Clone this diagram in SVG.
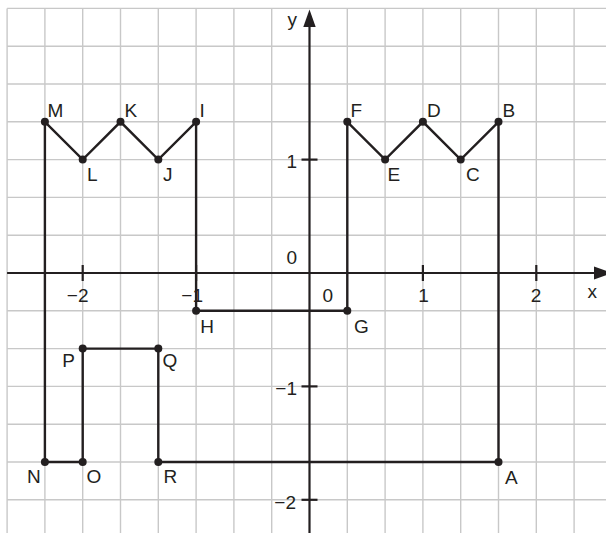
<svg xmlns="http://www.w3.org/2000/svg" width="606" height="533" viewBox="0 0 606 533">
<style>
.grid line{stroke:#c8c8c8;stroke-width:1.4}
.axis{stroke:#231f20;stroke-width:2.2;fill:none}
.seg{stroke:#231f20;stroke-width:2.4;fill:none;stroke-linejoin:miter}
.dot{fill:#231f20}
text{font-family:"Liberation Sans",Arial,sans-serif;font-size:19px;fill:#231f20}
.e{text-anchor:end}
.m{text-anchor:middle}
</style>
<rect width="606" height="533" fill="#ffffff"/>
<g class="grid" id="grid">
<line x1="7.1" y1="8.4" x2="7.1" y2="533"/>
<line x1="44.9" y1="8.4" x2="44.9" y2="533"/>
<line x1="82.7" y1="8.4" x2="82.7" y2="533"/>
<line x1="120.5" y1="8.4" x2="120.5" y2="533"/>
<line x1="158.3" y1="8.4" x2="158.3" y2="533"/>
<line x1="196.1" y1="8.4" x2="196.1" y2="533"/>
<line x1="233.9" y1="8.4" x2="233.9" y2="533"/>
<line x1="271.7" y1="8.4" x2="271.7" y2="533"/>
<line x1="347.3" y1="8.4" x2="347.3" y2="533"/>
<line x1="385.1" y1="8.4" x2="385.1" y2="533"/>
<line x1="422.9" y1="8.4" x2="422.9" y2="533"/>
<line x1="460.7" y1="8.4" x2="460.7" y2="533"/>
<line x1="498.5" y1="8.4" x2="498.5" y2="533"/>
<line x1="536.3" y1="8.4" x2="536.3" y2="533"/>
<line x1="574.1" y1="8.4" x2="574.1" y2="533"/>
<line x1="7.1" y1="8.4" x2="606" y2="8.4"/>
<line x1="7.1" y1="46.2" x2="606" y2="46.2"/>
<line x1="7.1" y1="84" x2="606" y2="84"/>
<line x1="7.1" y1="121.8" x2="606" y2="121.8"/>
<line x1="7.1" y1="159.6" x2="606" y2="159.6"/>
<line x1="7.1" y1="197.4" x2="606" y2="197.4"/>
<line x1="7.1" y1="235.2" x2="606" y2="235.2"/>
<line x1="7.1" y1="310.8" x2="606" y2="310.8"/>
<line x1="7.1" y1="348.6" x2="606" y2="348.6"/>
<line x1="7.1" y1="386.4" x2="606" y2="386.4"/>
<line x1="7.1" y1="424.2" x2="606" y2="424.2"/>
<line x1="7.1" y1="462" x2="606" y2="462"/>
<line x1="7.1" y1="499.8" x2="606" y2="499.8"/>
</g>
<g id="axes">
<line class="axis" x1="7.1" y1="273" x2="595" y2="273"/>
<polygon class="dot" points="594,266.5 612,273 594,279.5"/>
<line class="axis" x1="309.5" y1="26" x2="309.5" y2="533"/>
<polygon class="dot" points="309.5,9.5 303.3,27 315.7,27"/>
<line class="axis" x1="82.7" y1="265" x2="82.7" y2="281"/>
<line class="axis" x1="196.1" y1="265" x2="196.1" y2="281"/>
<line class="axis" x1="422.9" y1="265" x2="422.9" y2="281"/>
<line class="axis" x1="536.3" y1="265" x2="536.3" y2="281"/>
<line class="axis" x1="301.5" y1="159.6" x2="317.5" y2="159.6"/>
<line class="axis" x1="301.5" y1="386.4" x2="317.5" y2="386.4"/>
<line class="axis" x1="301.5" y1="499.8" x2="317.5" y2="499.8"/>
<text class="e" x="297" y="26">y</text>
<text x="587.5" y="298">x</text>
<text class="e" x="297" y="263.5">0</text>
<text x="322.5" y="301.7">0</text>
<text class="e" x="88.5" y="302">−2</text>
<text class="e" x="203" y="302">−1</text>
<text class="m" x="423.5" y="302">1</text>
<text class="m" x="536" y="302">2</text>
<text class="e" x="297" y="168">1</text>
<text class="e" x="297" y="395">−1</text>
<text class="e" x="296" y="508.5">−2</text>
</g>
<g id="connectors">
<polygon class="seg" points="498.5,462 498.5,121.8 460.7,159.6 422.9,121.8 385.1,159.6 347.3,121.8 347.3,310.8 196.1,310.8 196.1,121.8 158.3,159.6 120.5,121.8 82.7,159.6 44.9,121.8 44.9,462 82.7,462 82.7,348.6 158.3,348.6 158.3,462"/>
</g>
<g id="A"><circle class="dot" cx="498.5" cy="462" r="4"/><text x="505" y="484">A</text></g>
<g id="B"><circle class="dot" cx="498.5" cy="121.8" r="4"/><text x="502.5" y="116.5">B</text></g>
<g id="C"><circle class="dot" cx="460.7" cy="159.6" r="4"/><text x="466" y="180.5">C</text></g>
<g id="D"><circle class="dot" cx="422.9" cy="121.8" r="4"/><text x="426.9" y="116.5">D</text></g>
<g id="E"><circle class="dot" cx="385.1" cy="159.6" r="4"/><text x="387.5" y="180.5">E</text></g>
<g id="F"><circle class="dot" cx="347.3" cy="121.8" r="4"/><text x="350.5" y="116.5">F</text></g>
<g id="G"><circle class="dot" cx="347.3" cy="310.8" r="4"/><text x="354" y="333">G</text></g>
<g id="H"><circle class="dot" cx="196.1" cy="310.8" r="4"/><text x="200.2" y="333">H</text></g>
<g id="I"><circle class="dot" cx="196.1" cy="121.8" r="4"/><text x="199.5" y="116.5">I</text></g>
<g id="J"><circle class="dot" cx="158.3" cy="159.6" r="4"/><text x="163" y="180.5">J</text></g>
<g id="K"><circle class="dot" cx="120.5" cy="121.8" r="4"/><text x="124.5" y="116.5">K</text></g>
<g id="L"><circle class="dot" cx="82.7" cy="159.6" r="4"/><text x="87" y="180.5">L</text></g>
<g id="M"><circle class="dot" cx="44.9" cy="121.8" r="4"/><text x="47.5" y="116.5">M</text></g>
<g id="N"><circle class="dot" cx="44.9" cy="462" r="4"/><text class="e" x="40.7" y="483">N</text></g>
<g id="O"><circle class="dot" cx="82.7" cy="462" r="4"/><text x="86.4" y="483">O</text></g>
<g id="P"><circle class="dot" cx="82.7" cy="348.6" r="4"/><text class="e" x="75" y="367">P</text></g>
<g id="Q"><circle class="dot" cx="158.3" cy="348.6" r="4"/><text x="162.4" y="367">Q</text></g>
<g id="R"><circle class="dot" cx="158.3" cy="462" r="4"/><text x="163.4" y="483">R</text></g>
</svg>
